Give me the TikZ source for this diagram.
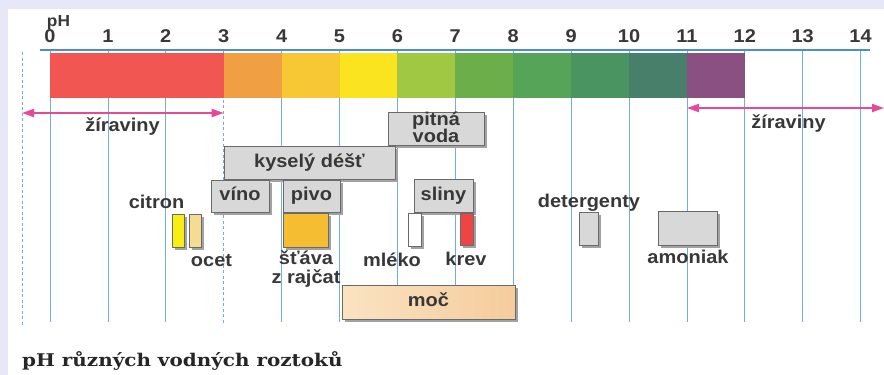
\documentclass[tikz,border=0pt]{standalone}
\usepackage{fontspec}
\setsansfont{Liberation Sans}
\newfontfamily\capfamily{DejaVu Serif}
\usetikzlibrary{shadows,arrows.meta}

\definecolor{framebg}{HTML}{E6E7F8}
\definecolor{gridline}{HTML}{74ACDD}
\definecolor{gridtop}{HTML}{4A8ED2}
\definecolor{ink}{HTML}{383838}
\definecolor{caustic}{HTML}{E8489A}
\definecolor{boxfill}{HTML}{D8D8D8}
\definecolor{boxline}{HTML}{6A6A6A}
\definecolor{shade}{HTML}{A2A2A2}
% pH scale colours
\definecolor{phA}{HTML}{F25652}
\definecolor{phB}{HTML}{F0A042}
\definecolor{phC}{HTML}{F8C834}
\definecolor{phD}{HTML}{FAE420}
\definecolor{phE}{HTML}{A0C842}
\definecolor{phF}{HTML}{6CAE4A}
\definecolor{phG}{HTML}{56A458}
\definecolor{phH}{HTML}{4A9462}
\definecolor{phI}{HTML}{477F6A}
\definecolor{phJ}{HTML}{8A5082}
% sample colours
\definecolor{lemon}{HTML}{F8EE14}
\definecolor{vinegar}{HTML}{F6DC92}
\definecolor{tomato}{HTML}{F5BE32}
\definecolor{blood}{HTML}{EE4444}
\definecolor{urineL}{HTML}{FAE3C2}
\definecolor{urineR}{HTML}{F5CC9C}

\newcommand\lbl{\fontsize{18.5}{18.5}\selectfont\sffamily\bfseries}
\newcommand\phlbl{\fontsize{16}{16}\selectfont\sffamily\bfseries}
\newcommand\capfont{\fontsize{17.5}{17.5}\selectfont\capfamily\bfseries}
\newcommand\sx[1]{\scalebox{1.08}[1]{#1}}

\tikzset{
  grid/.style={draw=gridline, line width=0.8pt},
  gridd/.style={grid, dash pattern=on 3pt off 2.5pt},
  txt/.style={anchor=base, inner sep=0pt, text=ink, font=\lbl},
  num/.style={txt},
  arr/.style={draw=caustic, line width=1.8pt, {Triangle[length=12pt,width=8pt]}-{Triangle[length=12pt,width=8pt]}},
  sample/.style={draw=boxline, line width=0.6pt, inner sep=0pt,
    drop shadow={shadow xshift=3pt, shadow yshift=-3pt, fill=shade, opacity=1}},
  gbox/.style={sample, fill=boxfill, text=ink, font=\lbl, text height=13pt, text depth=4pt},
}

\begin{document}
\begin{tikzpicture}[x=1pt,y=-1pt]
\useasboundingbox (0,0) rectangle (884,375);
\fill[framebg] (0,0) rectangle (884,375);
\fill[white] (8,9) rectangle (884,375);

% vertical guide lines
\foreach \p in {0,1,2,4,5,6,7,8,9,10,11,12,13,14}
  \draw[grid] ({50+57.9*\p},50) -- ({50+57.9*\p},322);
\draw[gridd] ({50+57.9*3},50) -- ({50+57.9*3},324);
\draw[gridd] (22,52) -- (22,326);
\draw[draw=gridtop, line width=1.3pt] (40,50) -- (870,50);

% colour scale
\fill[phA] (50,53) rectangle ({50+57.9*3},98);
\foreach \p/\c in {3/phB,4/phC,5/phD,6/phE,7/phF,8/phG,9/phH,10/phI,11/phJ}
  \fill[\c] ({50+57.9*\p},53) rectangle ({50+57.9*(\p+1)},98);

% numbers
\node[txt, font=\phlbl] (phname) at (58.5,26.7) {\sx{pH}};
\foreach \p in {0,...,14}
  \node[num] (n\p) at ({50+57.9*\p},42.5) {\sx{\p}};

% caustic ranges
\coordinate (lA) at (22,113);
\coordinate (lB) at ({50+57.9*3},113);
\coordinate (rA) at ({50+57.9*11},108);
\coordinate (rB) at (884,108);
\draw[arr] (lA) -- (lB);
\draw[arr] (rA) -- (rB);
\node[txt] (zl) at (122.5,131) {\sx{žíraviny}};
\node[txt] (zr) at (788.5,128) {\sx{žíraviny}};

% grey range boxes
\node[gbox, minimum width=96pt, minimum height=33pt] (voda) at (436,128.5) {};
\node[txt] (vodaA) at (436,125.5) {\sx{pitná}};
\node[txt] (vodaB) at (436,142.5) {\sx{voda}};
\node[gbox, minimum width=171pt, minimum height=33pt] (dest) at (309.5,162.5) {\sx{kyselý déšť}};
\node[gbox, minimum width=58pt, minimum height=32pt] (vino) at (240,196) {\sx{víno}};
\node[gbox, minimum width=57pt, minimum height=32pt] (pivo) at (311.5,196) {\sx{pivo}};
\node[gbox, minimum width=59pt, minimum height=33pt] (sliny) at (443.5,195.5) {\sx{sliny}};

% sample swatches
\node[sample, fill=lemon, minimum width=12pt, minimum height=33pt] (citronbox) at (178,230.5) {};
\node[sample, fill=vinegar, minimum width=12pt, minimum height=33pt] (ocetbox) at (195,230.5) {};
\node[sample, fill=tomato, minimum width=45pt, minimum height=34pt] (stavabox) at (305.5,230) {};
\node[sample, fill=white, minimum width=13pt, minimum height=33pt] (mlekobox) at (414.5,229.5) {};
\node[sample, fill=blood, minimum width=13pt, minimum height=32pt] (krevbox) at (466.5,229) {};
\node[sample, fill=boxfill, minimum width=19pt, minimum height=33pt] (detbox) at (588.5,228.5) {};
\node[sample, fill=boxfill, minimum width=59pt, minimum height=34pt] (amonbox) at (687.5,228) {};
\node[sample, left color=urineL, right color=urineR, minimum width=173pt, minimum height=34pt,
  text=ink, font=\lbl, text height=13pt, text depth=4pt] (moc) at (428.5,302) {\sx{moč}};

% sample names
\node[txt] (citron) at (156.5,208) {\sx{citron}};
\node[txt] (ocet) at (211.5,266) {\sx{ocet}};
\node[txt] (stavaA) at (306,264) {\sx{šťáva}};
\node[txt] (stavaB) at (306,283) {\sx{z rajčat}};
\node[txt] (mleko) at (392,266) {\sx{mléko}};
\node[txt] (krev) at (466,265) {\sx{krev}};
\node[txt] (deterg) at (589,207) {\sx{detergenty}};
\node[txt] (amon) at (688,263.5) {\sx{amoniak}};

% caption
\node[anchor=base west, inner sep=0pt, font=\capfont, text=black!85] (caption) at (22,366)
  {\scalebox{1.14}[1]{pH různých vodných roztoků}};
\end{tikzpicture}
\end{document}
